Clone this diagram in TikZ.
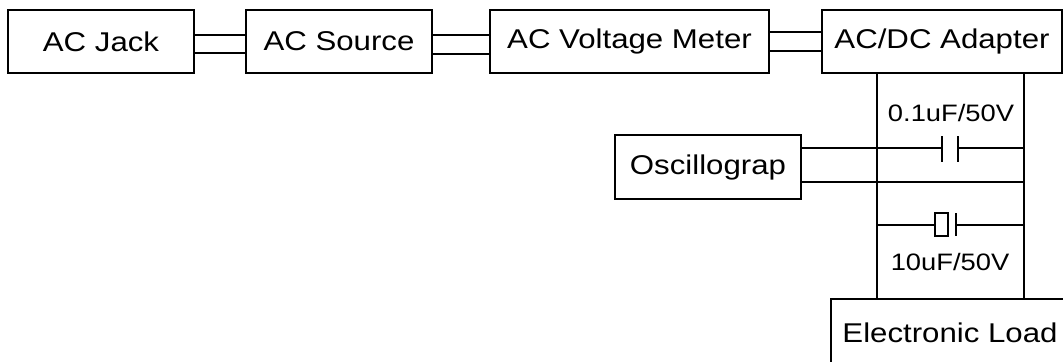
\documentclass[tikz,border=0pt]{standalone}
\usepackage{fontspec}
\setmainfont{Liberation Sans}[FakeStretch=1.15]
\usetikzlibrary{calc}

\tikzset{
  blk/.style={draw, line width=1.3pt, minimum height=1.575cm, inner sep=0pt,
    font=\fontsize{19.3}{20}\selectfont},
  capval/.style={inner sep=0pt, font=\fontsize{16.9}{18}\selectfont},
  wire/.style={line width=1.3pt}
}

\begin{document}
\begin{tikzpicture}[x=0.025cm, y=-0.025cm]
    \useasboundingbox (0, 0) rectangle (1063, 361);
    % top row
    \node[blk, minimum width=4.65cm] (jack) at (101, 41.5) {AC Jack};
    \node[blk, minimum width=4.65cm] (src) at (339, 41.5) {AC Source};
    \node[blk, minimum width=6.975cm] (meter) at (629.5, 41.5) {AC Voltage Meter};
    \node[blk, minimum width=6cm] (adapter) at (942, 41.5) {AC/DC Adapter};
    % scope and load
    \node[blk, minimum width=4.65cm, minimum height=1.6cm] (osc) at (708, 167) {Oscillograp};
    \node[blk, minimum width=5.95cm, minimum height=1.7cm] (load) at (950, 333) {Electronic Load};
    \draw[wire] (jack.east |- 0, 35) -- (src.west |- 0, 35);
    \draw[wire] (jack.east |- 0, 53) -- (src.west |- 0, 53);
    \draw[wire] (src.east |- 0, 35) -- (meter.west |- 0, 35);
    \draw[wire] (src.east |- 0, 54) -- (meter.west |- 0, 54);
    \draw[wire] (meter.east |- 0, 32) -- (adapter.west |- 0, 32);
    \draw[wire] (meter.east |- 0, 51) -- (adapter.west |- 0, 51);
    % dc rails
    \coordinate (lbus) at (877, 0);
    \coordinate (rbus) at (1024, 0);
    \draw[wire] (lbus |- adapter.south) -- (lbus |- load.north);
    \draw[wire] (rbus |- adapter.south) -- (rbus |- load.north);
    % 0.1uF
    \coordinate (c1a) at (942, 148);
    \coordinate (c1b) at (958, 148);
    \draw[wire] (osc.east |- c1a) -- (c1a);
    \draw[wire] (c1b) -- (rbus |- c1b);
    \draw[wire] ($(c1a) + (0, -12)$) -- ($(c1a) + (0, 14)$);
    \draw[wire] ($(c1b) + (0, -12)$) -- ($(c1b) + (0, 14)$);
    \node[capval] (c1val) at (951, 113.5) {0.1uF/50V};
    \draw[wire] (osc.east |- 0, 182) -- (rbus |- 0, 182);
    % 10uF
    \coordinate (c2a) at (935, 225);
    \coordinate (c2b) at (956, 225);
    \draw[wire] (lbus |- c2a) -- (c2a);
    \draw[wire] (c2b) -- (rbus |- c2b);
    \draw[wire] ($(c2a) + (0, -12)$) rectangle ($(c2a) + (13, 11)$);
    \draw[wire] ($(c2b) + (0, -12)$) -- ($(c2b) + (0, 11)$);
    \node[capval] (c2val) at (950, 262) {10uF/50V};
\end{tikzpicture}
\end{document}
